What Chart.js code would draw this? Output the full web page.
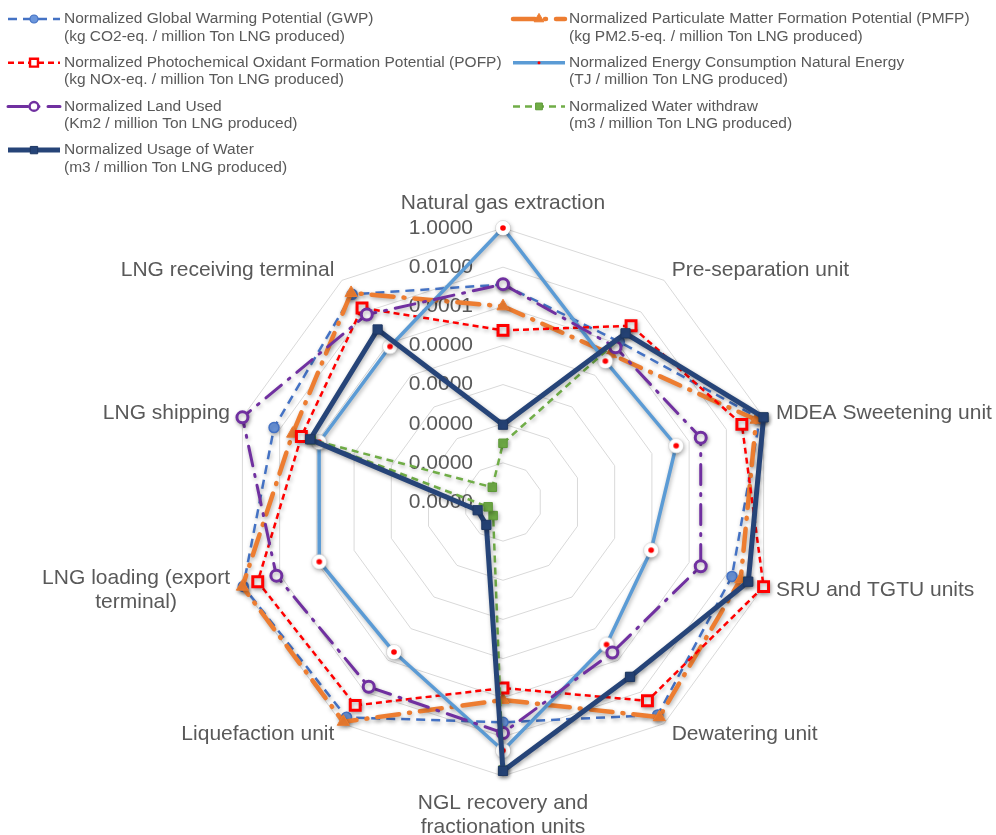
<!DOCTYPE html>
<html>
<head>
<meta charset="utf-8">
<title>Normalized environmental indicators along the LNG chain</title>
<script src="https://cdn.jsdelivr.net/npm/chart.js@4.4.1/dist/chart.umd.min.js"></script>
<style>
  html, body { margin: 0; padding: 0; background: #ffffff; }
  canvas { display: block; }
</style>
</head>
<body>
<canvas id="chart" width="996" height="835"></canvas>
<script>
// Process stages (radar axes), clockwise from the top
const categories = [
  'Natural gas extraction',
  'Pre-separation unit',
  'MDEA Sweetening unit',
  'SRU and TGTU units',
  'Dewatering unit',
  ['NGL recovery and', 'fractionation units'],
  'Liquefaction unit',
  ['LNG loading (export', 'terminal)'],
  'LNG shipping',
  'LNG receiving terminal'
];

// Radial axis: powers of ten shown as rings (1e-14 ... 1)
const tickExponents = [-14, -12, -10, -8, -6, -4, -2, 0];

// Series names (two lines each, as shown in the legend)
const seriesNames = [
  ['Normalized Global Warming Potential (GWP)', '(kg CO2-eq. / million Ton LNG produced)'],
  ['Normalized Particulate Matter Formation Potential (PMFP)', '(kg PM2.5-eq. / million Ton LNG produced)'],
  ['Normalized Photochemical Oxidant Formation Potential (POFP)', '(kg NOx-eq. / million Ton LNG produced)'],
  ['Normalized Energy Consumption Natural Energy', '(TJ / million Ton LNG produced)'],
  ['Normalized Land Used', '(Km2 / million Ton LNG produced)'],
  ['Normalized Water withdraw', '(m3 / million Ton LNG produced)'],
  ['Normalized Usage of Water', '(m3 / million Ton LNG produced)']
];

// Normalized values per stage (same order as categories)
const gwp           = [1.3e-3, 1.3e-4, 0.63,   0.02,   0.28,   1.8e-3, 0.40,   0.90,   0.02,   0.13];
const pmfp          = [1.0e-4, 2.2e-5, 0.40,   0.059,  0.39,   1.3e-4, 0.76,   1.0,    2.0e-3, 0.16];
const pofp          = [5.9e-6, 1.35e-3,0.068,  1.0,    0.036,  3.2e-5, 0.070,  0.15,   6.8e-4, 0.018];
const energy        = [1.0,    7.9e-6, 2.0e-5, 9.1e-7, 1.0e-5, 0.050,  3.0e-5, 7.4e-5, 7.6e-5, 6.6e-5];
const landUsed      = [1.35e-3,6.0e-5, 4.2e-4, 4.2e-4, 3.2e-5, 6.3e-3, 4.7e-3, 0.015,  1.0,    6.9e-3];
const waterWithdraw = [1.0e-11,4.5e-4, 1.0,    0.14,   1.1e-3, 0.50,   7.2e-14,6.3e-14,2.0e-4, 8.5e-14];
const waterUsage    = [8.9e-11,4.5e-4, 1.0,    0.15,   1.1e-3, 0.55,   2.8e-13,2.3e-13,2.3e-4, 7.9e-4];

const FONT = '"Liberation Sans", Arial, Helvetica, sans-serif';
const TEXT = '#595959';

// The radial scale is linear, so each value is plotted as its base-10 exponent
const toLog = arr => arr.map(v => Math.log10(v));
const tickText = e => Math.pow(10, e).toFixed(4);

// White disc with a red centre, used as the energy series marker
function dotInRing() {
  const c = document.createElement('canvas');
  c.width = 18; c.height = 18;
  const g = c.getContext('2d');
  g.beginPath(); g.arc(9, 9, 7.5, 0, Math.PI * 2);
  g.fillStyle = '#ffffff'; g.fill();
  g.lineWidth = 1; g.strokeStyle = 'rgba(0,0,0,0.10)'; g.stroke();
  g.beginPath(); g.arc(9, 9, 2.8, 0, Math.PI * 2);
  g.fillStyle = '#FF0000'; g.fill();
  return c;
}
const energyMarker = dotInRing();

const seriesStyles = [
  { color: '#4472C4', width: 2.5, dash: [9, 6],          cap: 'butt',  point: 'circle',     radius: 5,   fill: '#6B96DC', pBorder: '#4472C4', pWidth: 1.5 },
  { color: '#ED7D31', width: 4.5, dash: [22, 10, 1, 10], cap: 'round', point: 'triangle',   radius: 7,   fill: '#ED7D31', pBorder: '#ED7D31', pWidth: 1 },
  { color: '#FF0000', width: 2.5, dash: [6, 4],          cap: 'butt',  point: 'rect',       radius: 7,   fill: '#ffffff', pBorder: '#FF0000', pWidth: 3 },
  { color: '#5B9BD5', width: 3.5, dash: [],              cap: 'butt',  point: energyMarker, radius: 8,   fill: '#ffffff', pBorder: '#5B9BD5', pWidth: 0 },
  { color: '#7030A0', width: 3,   dash: [20, 9, 2, 9],   cap: 'round', point: 'circle',     radius: 5.5, fill: '#ffffff', pBorder: '#7030A0', pWidth: 3 },
  { color: '#70AD47', width: 2.5, dash: [7, 5],          cap: 'butt',  point: 'rect',       radius: 6,   fill: '#70AD47', pBorder: '#5E9A38', pWidth: 1 },
  { color: '#264478', width: 5,   dash: [],              cap: 'butt',  point: 'rect',       radius: 6.5, fill: '#264478', pBorder: '#1F3864', pWidth: 1 }
];

const seriesValues = [gwp, pmfp, pofp, energy, landUsed, waterWithdraw, waterUsage];

const datasets = seriesValues.map((vals, i) => {
  const s = seriesStyles[i];
  return {
    label: seriesNames[i].join(' '),
    data: toLog(vals),
    fill: false,
    borderColor: s.color,
    borderWidth: s.width,
    borderDash: s.dash,
    borderCapStyle: s.cap,
    borderJoinStyle: 'round',
    pointStyle: s.point,
    pointRadius: s.radius,
    pointHoverRadius: s.radius,
    pointBackgroundColor: s.fill,
    pointBorderColor: s.pBorder,
    pointBorderWidth: s.pWidth,
    tension: 0,
    order: seriesValues.length - i   // later series sit on top
  };
});

// Tick labels, stage labels and drop shadow under the series
const radarText = {
  id: 'radarText',
  beforeDatasetsDraw(chart) {
    const s = chart.scales.r;
    const ctx = chart.ctx;
    ctx.save();
    ctx.fillStyle = TEXT;
    ctx.font = '21px ' + FONT;
    ctx.textAlign = 'right';
    ctx.textBaseline = 'middle';
    tickExponents.forEach(e => {
      const d = s.getDistanceFromCenterForValue(e);
      ctx.fillText(tickText(e), s.xCenter - 30, s.yCenter - d);
    });

    ctx.textAlign = 'center';
    const lh = 24;
    categories.forEach((lab, i) => {
      const lines = Array.isArray(lab) ? lab : [lab];
      const a = s.getIndexAngle(i);
      const sin = Math.sin(a), cos = Math.cos(a);
      const side = Math.abs(sin) < 0.01 ? 0 : (sin > 0 ? 1 : -1);
      const pad = side === 0 ? (cos > 0 ? 13 : 15) : 13;
      const p = s.getPointPosition(i, s.drawingArea + pad);
      const bw = Math.max(...lines.map(l => ctx.measureText(l).width));
      const bh = lines.length * lh;
      const cx = side === 0 ? p.x : (side > 0 ? p.x + bw / 2 : p.x - bw / 2);
      const cy = side === 0 ? (cos > 0 ? p.y - bh / 2 : p.y + bh / 2) : p.y;
      lines.forEach((l, k) => ctx.fillText(l, cx, cy - bh / 2 + lh * (k + 0.5)));
    });
    ctx.restore();

    ctx.save();
    ctx.shadowColor = 'rgba(0,0,0,0.30)';
    ctx.shadowBlur = 4;
    ctx.shadowOffsetX = 1;
    ctx.shadowOffsetY = 2;
  },
  afterDatasetsDraw(chart) {
    chart.ctx.restore();
  }
};

function drawMarker(ctx, s, x, y, scale) {
  const r = s.radius * scale;
  ctx.save();
  ctx.setLineDash([]);
  ctx.fillStyle = s.fill;
  ctx.strokeStyle = s.pBorder;
  ctx.lineWidth = Math.max(1, s.pWidth * scale);
  if (typeof s.point !== 'string') {
    ctx.beginPath(); ctx.arc(x, y, 1.5, 0, Math.PI * 2);
    ctx.fillStyle = '#FF0000'; ctx.fill();
  } else if (s.point === 'circle') {
    ctx.beginPath(); ctx.arc(x, y, r, 0, Math.PI * 2);
    ctx.fill(); ctx.stroke();
  } else if (s.point === 'rect') {
    const h = r * Math.SQRT1_2;
    ctx.beginPath(); ctx.rect(x - h, y - h, 2 * h, 2 * h);
    ctx.fill(); ctx.stroke();
  } else if (s.point === 'triangle') {
    ctx.beginPath();
    ctx.moveTo(x, y - r);
    ctx.lineTo(x + r * 0.866, y + r * 0.5);
    ctx.lineTo(x - r * 0.866, y + r * 0.5);
    ctx.closePath(); ctx.fill(); ctx.stroke();
  }
  ctx.restore();
}

// Two-column legend above the plot
const lineLegend = {
  id: 'lineLegend',
  afterDraw(chart) {
    const ctx = chart.ctx;
    ctx.save();
    ctx.font = '15.5px ' + FONT;
    ctx.textBaseline = 'middle';
    ctx.textAlign = 'left';
    seriesNames.forEach((name, i) => {
      const s = seriesStyles[i];
      const col = i % 2, row = Math.floor(i / 2);
      const x0 = col === 0 ? 8 : 513;
      const x1 = x0 + 52;
      const y = 19 + row * 43.7;
      ctx.save();
      ctx.strokeStyle = s.color;
      ctx.lineWidth = s.width;
      ctx.lineCap = s.cap;
      ctx.setLineDash(s.dash);
      ctx.beginPath(); ctx.moveTo(x0, y); ctx.lineTo(x1, y); ctx.stroke();
      ctx.restore();
      drawMarker(ctx, s, x0 + 26, y, 0.8);
      ctx.fillStyle = TEXT;
      ctx.fillText(name[0], x1 + 4, y);
      ctx.fillText(name[1], x1 + 4, y + 17.5);
    });
    ctx.restore();
  }
};

new Chart(document.getElementById('chart'), {
  type: 'radar',
  data: { labels: categories, datasets },
  options: {
    responsive: false,
    animation: false,
    events: [],
    layout: { padding: { top: 228, bottom: 59, left: 203, right: 193 } },
    plugins: { legend: { display: false }, tooltip: { enabled: false } },
    scales: {
      r: {
        min: tickExponents[0],
        max: tickExponents[tickExponents.length - 1],
        beginAtZero: false,
        ticks: { display: false, stepSize: 2 },
        grid: { color: '#D9D9D9', lineWidth: 1, circular: false },
        angleLines: { display: false },
        pointLabels: { display: false }
      }
    }
  },
  plugins: [radarText, lineLegend]
});
</script>
</body>
</html>
